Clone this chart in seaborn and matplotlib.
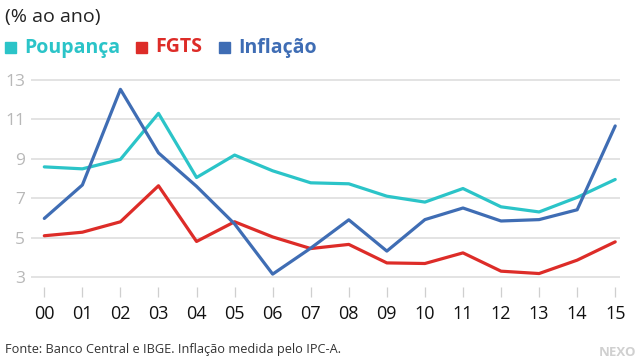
import matplotlib
matplotlib.use("Agg")
import matplotlib.pyplot as plt
import seaborn as sns
import pandas as pd

years = ["00", "01", "02", "03", "04", "05", "06", "07",
         "08", "09", "10", "11", "12", "13", "14", "15"]
poupanca = [8.59, 8.49, 8.97, 11.31, 8.05, 9.19, 8.39, 7.78,
            7.73, 7.10, 6.80, 7.49, 6.56, 6.30, 7.04, 7.95]
fgts = [5.09, 5.27, 5.80, 7.63, 4.80, 5.80, 5.03, 4.44,
        4.65, 3.71, 3.68, 4.22, 3.29, 3.17, 3.85, 4.78]
inflacao = [5.97, 7.67, 12.53, 9.30, 7.60, 5.69, 3.14, 4.46,
            5.90, 4.31, 5.91, 6.50, 5.84, 5.91, 6.41, 10.67]
series_names = ["Poupança", "FGTS", "Inflação"]
colors = ["#2BC4C8", "#DD2C28", "#3F6DB4"]
yticks = [3, 5, 7, 9, 11, 13]

rows = []
for name, vals in zip(series_names, [poupanca, fgts, inflacao]):
    for i, (yr, v) in enumerate(zip(years, vals)):
        rows.append({"x": i, "ano": yr, "valor": v, "serie": name})
df = pd.DataFrame(rows)

sns.set_style("white")
plt.rcParams["font.family"] = ["Open Sans", "DejaVu Sans"]

fig = plt.figure(figsize=(6.4, 3.6), dpi=100)
ax = fig.add_axes([0.048, 0.203, 0.921, 0.580])

sns.lineplot(data=df, x="x", y="valor", hue="serie", hue_order=series_names,
             palette=colors, linewidth=2.3, ax=ax, legend=False, zorder=3)

ax.set_xlim(-0.357, 15.13)
ax.set_ylim(2.49, 13.1)
ax.set_yticks(yticks)
ax.set_yticklabels([str(t) for t in yticks], color="#b8b8b8", fontsize=12.5)
ax.set_xticks(range(len(years)))
ax.set_xticklabels(years, fontsize=13, color="#111111")
ax.grid(axis="y", color="#dedede", linewidth=1.2, zorder=0)
ax.grid(axis="x", visible=False)
for s in ax.spines.values():
    s.set_visible(False)
ax.tick_params(axis="y", length=0, pad=4)
ax.tick_params(axis="x", length=7, width=0.9, color="#cfcfcf", pad=6, direction="out")
ax.xaxis.set_ticks_position("bottom")
ax.set_xlabel("")
ax.set_ylabel("")

# Title
fig.text(5 / 640, 1 - 17 / 360, "(% ao ano)", fontsize=14, color="#222222",
         va="center", ha="left")

# Legend row
leg_x = [5, 136, 219]
txt_x = [24, 155, 238]
for name, c, sx, tx in zip(series_names, colors, leg_x, txt_x):
    fig.patches.append(plt.Rectangle((sx / 640, 1 - 53 / 360), 11 / 640, 11 / 360,
                                     transform=fig.transFigure, color=c, figure=fig))
    fig.text(tx / 640, 1 - 47.5 / 360, name, fontsize=14, fontweight="bold",
             color=c, va="center", ha="left")

# Source and logo
fig.text(5 / 640, 1 - 350 / 360, "Fonte: Banco Central e IBGE. Inflação medida pelo IPC-A.",
         fontsize=9.2, color="#333333", va="center", ha="left")
fig.text(636 / 640, 1 - 352 / 360, "NEXO", fontsize=9.5, fontweight="bold",
         color="#d0d0d0", va="center", ha="right")

fig.savefig("out.png", dpi=100)
